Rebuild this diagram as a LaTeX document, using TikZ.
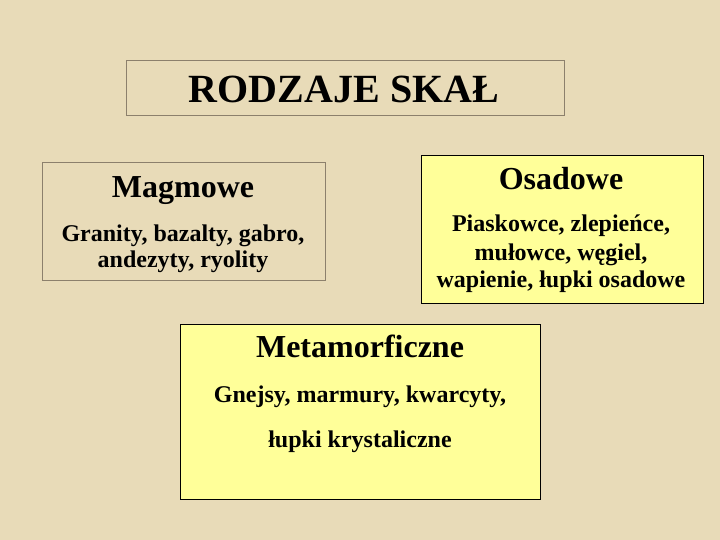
\documentclass[tikz,border=0pt]{standalone}
\usepackage{fontspec}
\setmainfont{Liberation Serif}
\usetikzlibrary{positioning}
\definecolor{parchment}{RGB}{232,219,184}
\definecolor{notepad}{RGB}{255,255,153}
\definecolor{frame}{RGB}{140,128,108}

\tikzset{
  plainbox/.style={draw=frame, line width=1pt, inner sep=0pt},
  notebox/.style={draw=black, fill=notepad, line width=1pt, inner sep=0pt},
  titletxt/.style={font=\bfseries\fontsize{40}{48}\selectfont, anchor=base, inner sep=0pt},
  headtxt/.style={font=\bfseries\fontsize{32}{38}\selectfont, anchor=base, inner sep=0pt},
  bodytxt/.style={font=\bfseries\fontsize{24}{28}\selectfont, anchor=base, inner sep=0pt},
}

\begin{document}
\begin{tikzpicture}[x=1pt, y=-1pt]
      \fill[parchment] (0,0) rectangle (720,540);

      \node[plainbox, minimum width=438pt, minimum height=55pt] (title) at (345,88.5){};
      \node[titletxt] (titleline) at (344,103) {RODZAJE SKAŁ};

      \node[plainbox, minimum width=283pt, minimum height=117pt] (magma) at (183.5,221.5){};
      \node[headtxt] (magmahead) at (183,197) {Magmowe};
      \node[bodytxt] (magma1) at (183,241) {Granity, bazalty, gabro,};
      \node[bodytxt] (magma2) at (183,267) {andezyty, ryolity};

      \node[notebox, minimum width=282pt, minimum height=147pt] (osad) at (562,229.5){};
      \node[headtxt] (osadhead) at (561,190) {Osadowe};
      \node[bodytxt] (osad1) at (561,232) {Piaskowce, zlepieńce,};
      \node[bodytxt] (osad2) at (561,260) {mułowce, węgiel,};
      \node[bodytxt] (osad3) at (561,287) {wapienie, łupki osadowe};

      \node[notebox, minimum width=360pt, minimum height=175pt] (meta) at (360,411.5){};
      \node[headtxt] (metahead) at (360,357) {Metamorficzne};
      \node[bodytxt] (meta1) at (360,402) {Gnejsy, marmury, kwarcyty,};
      \node[bodytxt] (meta2) at (360,447) {łupki krystaliczne};

    \end{tikzpicture}
\end{document}
